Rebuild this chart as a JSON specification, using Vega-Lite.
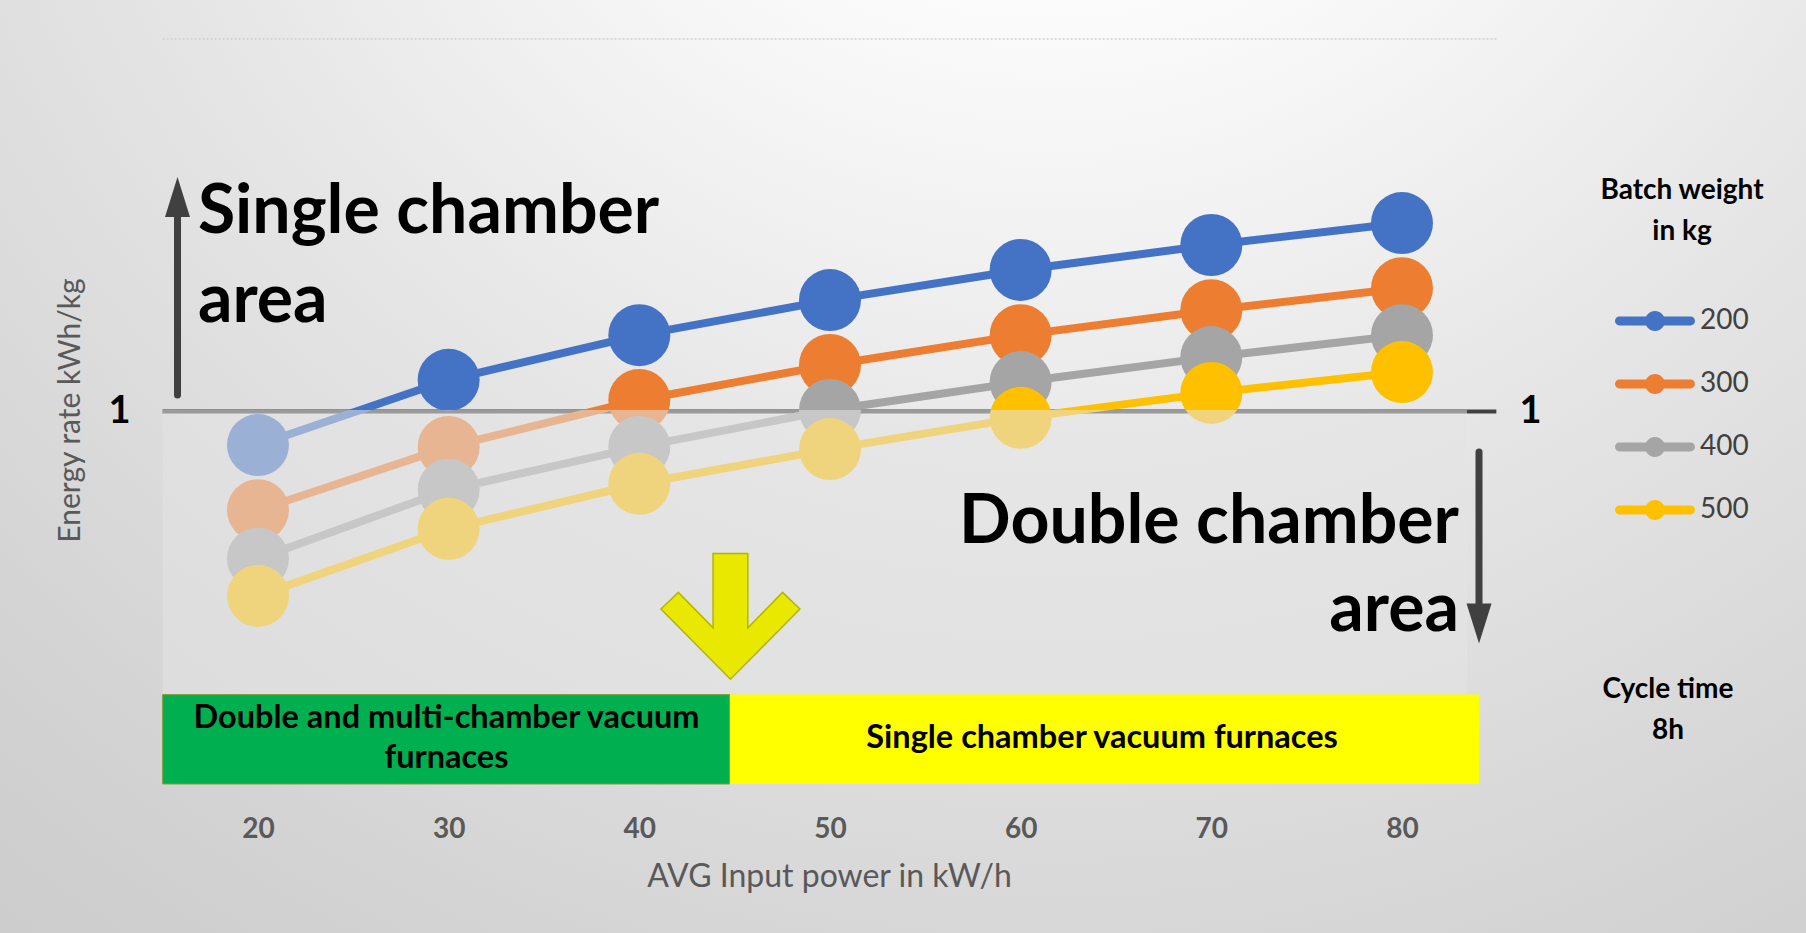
{
  "$schema": "https://vega.github.io/schema/vega-lite/v6.json",
  "width": 1806,
  "height": 933,
  "autosize": {"type": "none"},
  "padding": 0,
  "background": "#d6d6d6",
  "config": {
    "font": "Lato",
    "scale": {"zero": false},
    "view": {
      "stroke": null,
      "fill": {
        "gradient": "radial",
        "x1": 0.58, "y1": 0, "r1": 0,
        "x2": 0.58, "y2": 0, "r2": 1.05,
        "stops": [
          {"offset": 0, "color": "#ffffff"},
          {"offset": 0.25, "color": "#fafafa"},
          {"offset": 0.5, "color": "#e6e6e6"},
          {"offset": 0.8, "color": "#d2d2d2"},
          {"offset": 1, "color": "#c8c8c8"}
        ]
      }
    }
  },
  "data": {
    "values": [
      {"power": 20, "batch": "200", "rate": 0.91},
      {"power": 30, "batch": "200", "rate": 1.085},
      {"power": 40, "batch": "200", "rate": 1.205},
      {"power": 50, "batch": "200", "rate": 1.299},
      {"power": 60, "batch": "200", "rate": 1.38},
      {"power": 70, "batch": "200", "rate": 1.447},
      {"power": 80, "batch": "200", "rate": 1.506},
      {"power": 20, "batch": "300", "rate": 0.735},
      {"power": 30, "batch": "300", "rate": 0.905},
      {"power": 40, "batch": "300", "rate": 1.031},
      {"power": 50, "batch": "300", "rate": 1.125},
      {"power": 60, "batch": "300", "rate": 1.205},
      {"power": 70, "batch": "300", "rate": 1.272},
      {"power": 80, "batch": "300", "rate": 1.331},
      {"power": 20, "batch": "400", "rate": 0.605},
      {"power": 30, "batch": "400", "rate": 0.79},
      {"power": 40, "batch": "400", "rate": 0.905},
      {"power": 50, "batch": "400", "rate": 1.004},
      {"power": 60, "batch": "400", "rate": 1.079},
      {"power": 70, "batch": "400", "rate": 1.146},
      {"power": 80, "batch": "400", "rate": 1.205},
      {"power": 20, "batch": "500", "rate": 0.505},
      {"power": 30, "batch": "500", "rate": 0.685},
      {"power": 40, "batch": "500", "rate": 0.806},
      {"power": 50, "batch": "500", "rate": 0.899},
      {"power": 60, "batch": "500", "rate": 0.983},
      {"power": 70, "batch": "500", "rate": 1.05},
      {"power": 80, "batch": "500", "rate": 1.106}
    ]
  },
  "resolve": {"axis": {"y": "independent"}},
  "layer": [
    {
      "data": {"values": [{}]},
      "mark": {"type": "rule", "color": "#404040", "strokeWidth": 4},
      "encoding": {
        "x": {"datum": 15, "type": "quantitative", "scale": {"domain": [6.47, 101.19], "nice": false, "zero": false}},
        "x2": {"datum": 84.95},
        "y": {
          "datum": 1,
          "type": "quantitative",
          "scale": {"domain": [-0.4, 2.1047], "nice": false, "zero": false},
          "axis": {
            "orient": "right", "values": [1], "format": "d", "offset": -310,
            "domain": false, "ticks": false, "grid": false,
            "labelFontSize": 38, "labelFontWeight": "bold", "labelColor": "#000000",
            "labelPadding": 23, "title": null
          }
        }
      }
    },
    {
      "layer": [
        {
          "data": {"values": [{}]},
          "mark": {"type": "rule", "color": "#cfcfcf", "strokeWidth": 1.5, "strokeDash": [2, 2]},
          "encoding": {
            "x": {"datum": 15},
            "x2": {"datum": 84.95},
            "y": {"datum": 2}
          }
        },
        {
          "mark": {"type": "line", "strokeWidth": 8},
          "encoding": {
            "x": {
              "field": "power",
              "type": "quantitative",
              "scale": {"domain": [6.47, 101.19], "nice": false, "zero": false},
              "axis": {
                "values": [20, 30, 40, 50, 60, 70, 80], "offset": -149,
                "domain": false, "ticks": false, "grid": false,
                "labelFontSize": 28, "labelFontWeight": "bold", "labelColor": "#595959",
                "labelPadding": 31,
                "title": "AVG Input power in kW/h", "titleFontSize": 32, "titleFontWeight": "normal",
                "titleColor": "#595959", "titlePadding": 18, "titleX": 829
              }
            },
            "y": {
              "field": "rate",
              "type": "quantitative",
              "scale": {"domain": [-0.4, 2.1047], "nice": false, "zero": false},
              "axis": {
                "orient": "left", "values": [1], "format": "d", "offset": -163,
                "domain": false, "ticks": false, "grid": false,
                "labelFontSize": 38, "labelFontWeight": "bold", "labelColor": "#000000",
                "labelPadding": 33,
                "title": "Energy rate kWh/kg", "titleFontSize": 30, "titleFontWeight": "normal",
                "titleColor": "#595959", "titlePadding": 22, "titleY": 410
              }
            },
            "color": {
              "field": "batch",
              "type": "nominal",
              "scale": {"domain": ["200", "300", "400", "500"], "range": ["#4472C4", "#ED7D31", "#A5A5A5", "#FFC000"]}
            }
          }
        },
        {
          "mark": {"type": "circle", "size": 3844, "opacity": 1},
          "encoding": {
            "x": {"field": "power", "type": "quantitative"},
            "y": {"field": "rate", "type": "quantitative"},
            "color": {
              "field": "batch",
              "type": "nominal",
              "legend": {
                "orient": "none", "legendX": 1600, "legendY": 177, "padding": 0,
                "title": ["Batch weight", "in kg"], "titleFontSize": 28, "titleFontWeight": "bold",
                "titleColor": "#000000", "titleLineHeight": 41, "titleAnchor": "middle", "titleAlign": "center",
                "titlePadding": 35,
                "symbolType": "M -0.89 -0.11 L 0.89 -0.11 A 0.11 0.11 0 0 1 0.89 0.11 L -0.89 0.11 A 0.11 0.11 0 0 1 -0.89 -0.11 Z M -0.25 0 A 0.25 0.25 0 1 1 0.25 0 A 0.25 0.25 0 1 1 -0.25 0 Z",
                "symbolSize": 6400, "symbolStrokeWidth": 0, "symbolOpacity": 1,
                "labelFontSize": 28, "labelColor": "#404040", "labelOffset": 5, "rowPadding": 9,
                "encode": {
                  "symbols": {
                    "update": {
                      "fill": {"scale": "color", "field": "value"},
                      "stroke": {"value": "transparent"}
                    }
                  }
                }
              }
            }
          }
        },
        {
          "data": {"values": [{}]},
          "mark": {"type": "rect", "fill": "#e4e4e4", "opacity": 0.55},
          "encoding": {
            "x": {"datum": 15},
            "x2": {"datum": 83.41},
            "y": {"datum": 0.24},
            "y2": {"datum": 1.004}
          }
        },
        {
          "data": {"values": [{}]},
          "mark": {"type": "rect", "fill": "#00B050", "stroke": "#8a9a3a", "strokeWidth": 1},
          "encoding": {
            "x": {"datum": 15},
            "x2": {"datum": 44.75},
            "y": {"datum": 0},
            "y2": {"datum": 0.24}
          }
        },
        {
          "data": {"values": [{}]},
          "mark": {"type": "rect", "fill": "#FFFF00"},
          "encoding": {
            "x": {"datum": 44.75},
            "x2": {"datum": 84.04},
            "y": {"datum": 0},
            "y2": {"datum": 0.24}
          }
        },
        {
          "data": {"values": [{"note": ["Double and multi-chamber vacuum", "furnaces"]}]},
          "mark": {"type": "text", "font": "Lato", "fontSize": 32.5, "fontWeight": "bold", "color": "#000000", "align": "center", "baseline": "alphabetic", "lineHeight": 40},
          "encoding": {
            "x": {"datum": 29.89},
            "y": {"datum": 0.15},
            "text": {"field": "note"}
          }
        },
        {
          "data": {"values": [{"note": "Single chamber vacuum furnaces"}]},
          "mark": {"type": "text", "font": "Lato", "fontSize": 32.5, "fontWeight": "bold", "color": "#000000", "align": "center", "baseline": "alphabetic"},
          "encoding": {
            "x": {"datum": 64.27},
            "y": {"datum": 0.0966},
            "text": {"field": "note"}
          }
        },
        {
          "data": {"values": [{}]},
          "mark": {"type": "rule", "color": "#404040", "strokeWidth": 7, "strokeCap": "round"},
          "encoding": {
            "x": {"datum": 15.78},
            "y": {"datum": 1.044},
            "y2": {"datum": 1.53}
          }
        },
        {
          "data": {"values": [{}]},
          "mark": {"type": "point", "shape": "M 0 -1 L 0.625 1 L -0.625 1 Z", "size": 1600, "filled": true, "color": "#404040", "opacity": 1},
          "encoding": {
            "x": {"datum": 15.78},
            "y": {"datum": 1.576}
          }
        },
        {
          "data": {"values": [{}]},
          "mark": {"type": "rule", "color": "#404040", "strokeWidth": 7, "strokeCap": "round"},
          "encoding": {
            "x": {"datum": 84.04},
            "y": {"datum": 0.891},
            "y2": {"datum": 0.47}
          }
        },
        {
          "data": {"values": [{}]},
          "mark": {"type": "point", "shape": "M 0 1 L 0.625 -1 L -0.625 -1 Z", "size": 1600, "filled": true, "color": "#404040", "opacity": 1},
          "encoding": {
            "x": {"datum": 84.04},
            "y": {"datum": 0.431}
          }
        },
        {
          "data": {"values": [{}]},
          "mark": {
            "type": "point",
            "shape": "M -0.25 -0.9 L 0.25 -0.9 L 0.25 0.17 L 0.75 -0.34 L 1 -0.1 L 0 0.91 L -1 -0.1 L -0.75 -0.34 L -0.25 0.17 Z",
            "size": 19321, "filled": true, "fill": "#E8E800", "stroke": "#B5B500", "strokeWidth": 1.5, "opacity": 1
          },
          "encoding": {
            "x": {"datum": 44.78},
            "y": {"datum": 0.451}
          }
        },
        {
          "data": {"values": [{"note": ["Single chamber", "area"]}]},
          "mark": {"type": "text", "font": "Lato", "fontSize": 68, "fontWeight": "bold", "color": "#000000", "align": "left", "baseline": "alphabetic", "lineHeight": 89},
          "encoding": {
            "x": {"datum": 16.85},
            "y": {"datum": 1.479},
            "text": {"field": "note"}
          }
        },
        {
          "data": {"values": [{"note": ["Double chamber", "area"]}]},
          "mark": {"type": "text", "font": "Lato", "fontSize": 68, "fontWeight": "bold", "color": "#000000", "align": "right", "baseline": "alphabetic", "lineHeight": 88},
          "encoding": {
            "x": {"datum": 82.99},
            "y": {"datum": 0.647},
            "text": {"field": "note"}
          }
        },
        {
          "data": {"values": [{"note": ["Cycle time", "8h"]}]},
          "mark": {"type": "text", "font": "Lato", "fontSize": 28, "fontWeight": "bold", "color": "#000000", "align": "center", "baseline": "alphabetic", "lineHeight": 41},
          "encoding": {
            "x": {"datum": 93.95},
            "y": {"datum": 0.231},
            "text": {"field": "note"}
          }
        }
      ]
    }
  ]
}
